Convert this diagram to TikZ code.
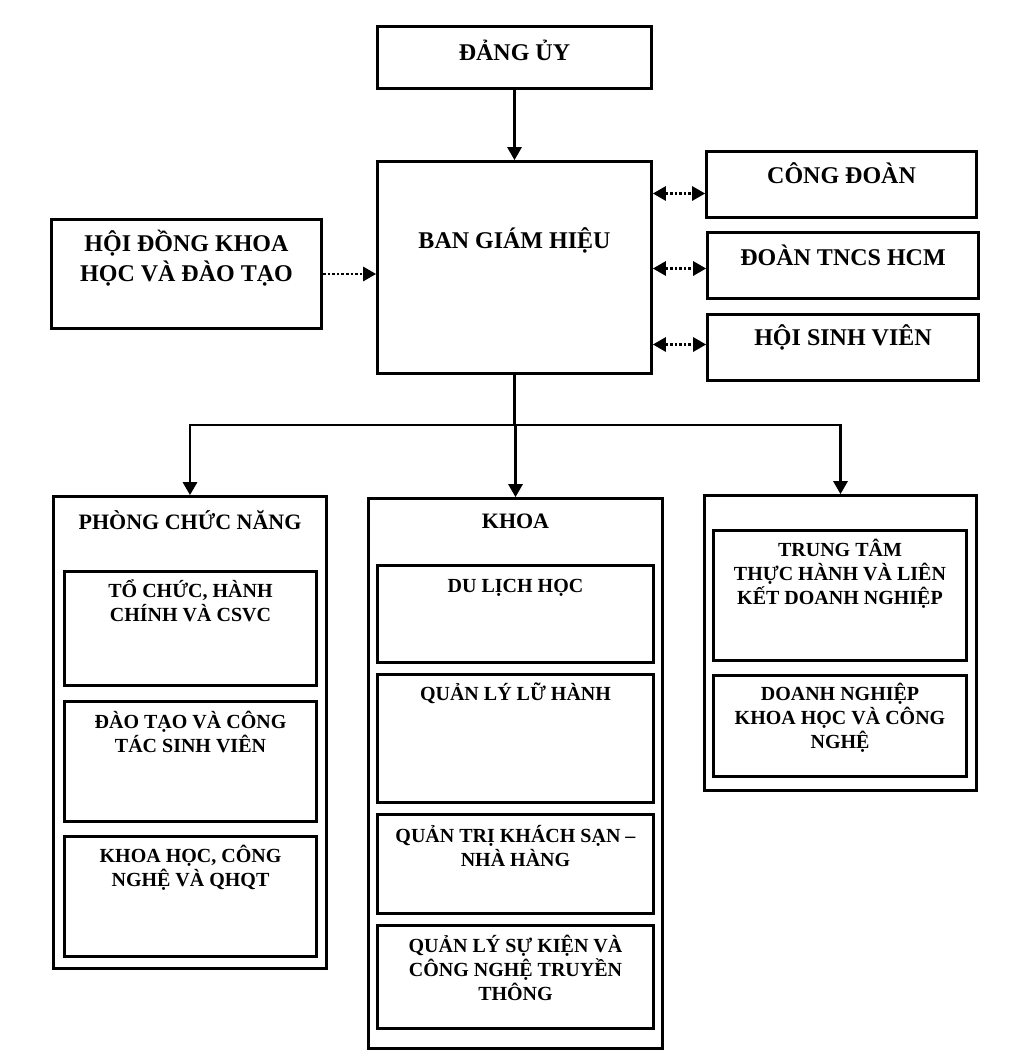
\documentclass[tikz,border=0pt]{standalone}
\usepackage{fontspec}
\setmainfont{Liberation Serif}
\usetikzlibrary{arrows}
\usetikzlibrary{positioning}
\tikzset{
  box/.style={draw, line width=3pt, anchor=north west, inner sep=0},
  big/.style={font=\fontsize{24}{30}\selectfont\bfseries, align=center, inner sep=0},
  head/.style={font=\fontsize{22}{26}\selectfont\bfseries, align=center, inner sep=0},
  small/.style={font=\fontsize{20}{24}\selectfont\bfseries, align=center, inner sep=0},
  arrow/.style={->, >=triangle 60, line width=2.6pt},
  link/.style={<->, >=triangle 60, line width=2.6pt, dotted}
}

\begin{document}
\begin{tikzpicture}[x=1pt, y=-1pt]
  \useasboundingbox[fill=white] (0,0) rectangle (1024,1060);

  % top part
  \node[box, minimum width=274pt, minimum height=62pt] (dang) at (376,25) {};
  \node[box, minimum width=274pt, minimum height=212pt] (bgh) at (376,160) {};
  \node[box, minimum width=270pt, minimum height=109pt] (hdkh) at (50,218) {};
  \node[box, minimum width=270pt, minimum height=66pt] (cd) at (705,150) {};
  \node[box, minimum width=271pt, minimum height=66pt] (dtn) at (706,231) {};
  \node[box, minimum width=271pt, minimum height=66pt] (hsv) at (706,313) {};

  \node[big] (dang-t) at ([yshift=-25pt]dang.north) {ĐẢNG ỦY};
  \node[big] (bgh-t) at ([yshift=-80pt]bgh.north) {BAN GIÁM HIỆU};
  \node[big] (hdkh-t) at ([yshift=-40pt]hdkh.north) {HỘI ĐỒNG KHOA\\HỌC VÀ ĐÀO TẠO};
  \node[big] (cd-t) at ([yshift=-23pt]cd.north) {CÔNG ĐOÀN};
  \node[big] (dtn-t) at ([yshift=-24pt]dtn.north) {ĐOÀN TNCS HCM};
  \node[big] (hsv-t) at ([yshift=-24pt]hsv.north) {HỘI SINH VIÊN};

  % phong chuc nang
  \node[box, minimum width=273pt, minimum height=472pt] (pcn) at (52,495) {};
  \node[box, minimum width=252pt, minimum height=114pt] (tc) at (63,570) {};
  \node[box, minimum width=252pt, minimum height=120pt] (dt) at (63,700) {};
  \node[box, minimum width=252pt, minimum height=120pt] (kh) at (63,835) {};

  \node[head] (pcn-t) at ([yshift=-25pt]pcn.north) {PHÒNG CHỨC NĂNG};
  \node[small] (tc-t) at ([yshift=-31pt]tc.north) {TỔ CHỨC, HÀNH\\CHÍNH VÀ CSVC};
  \node[small] (dt-t) at ([yshift=-32pt]dt.north) {ĐÀO TẠO VÀ CÔNG\\TÁC SINH VIÊN};
  \node[small] (kh-t) at ([yshift=-33pt]kh.north) {KHOA HỌC, CÔNG\\NGHỆ VÀ QHQT};

  % khoa
  \node[box, minimum width=294pt, minimum height=550pt] (khoa) at (367,497) {};
  \node[box, minimum width=276pt, minimum height=97pt] (dl) at (376,564) {};
  \node[box, minimum width=276pt, minimum height=128pt] (lh) at (376,673) {};
  \node[box, minimum width=276pt, minimum height=99pt] (qt) at (376,813) {};
  \node[box, minimum width=276pt, minimum height=103pt] (sk) at (376,924) {};

  \node[head] (khoa-t) at ([yshift=-24pt]khoa.north) {KHOA};
  \node[small] (dl-t) at ([yshift=-24pt]dl.north) {DU LỊCH HỌC};
  \node[small] (lh-t) at ([yshift=-20pt]lh.north) {QUẢN LÝ LỮ HÀNH};
  \node[small] (qt-t) at ([yshift=-33pt]qt.north) {QUẢN TRỊ KHÁCH SẠN –\\NHÀ HÀNG};
  \node[small] (sk-t) at ([yshift=-44pt]sk.north) {QUẢN LÝ SỰ KIỆN VÀ\\CÔNG NGHỆ TRUYỀN\\THÔNG};

  % trung tam
  \node[box, minimum width=272pt, minimum height=295pt] (tt) at (703,494) {};
  \node[box, minimum width=253pt, minimum height=130pt] (ttth) at (712,529) {};
  \node[box, minimum width=253pt, minimum height=101pt] (dn) at (712,674) {};

  \node[small] (ttth-t) at ([yshift=-45pt]ttth.north) {TRUNG TÂM\\THỰC HÀNH VÀ LIÊN\\KẾT DOANH NGHIỆP};
  \node[small] (dn-t) at ([yshift=-44pt]dn.north) {DOANH NGHIỆP\\KHOA HỌC VÀ CÔNG\\NGHỆ};

  % connectors
  \coordinate (cd-in) at ([yshift=-9pt]cd.west);
  \coordinate (dtn-in) at ([yshift=-3pt]dtn.west);
  \coordinate (hsv-in) at ([yshift=3pt]hsv.west);
  \draw[arrow] (dang) -- (bgh);
  \draw[link, ->] (hdkh.east) -- (bgh.west |- hdkh.east);
  \draw[link] (bgh.east |- cd-in) -- (cd-in);
  \draw[link] (bgh.east |- dtn-in) -- (dtn-in);
  \draw[link] (bgh.east |- hsv-in) -- (hsv-in);

  \coordinate (fork) at (bgh.south |- 0,425);
  \draw[line width=2.6pt] (bgh) -- (fork);
  \draw[arrow] (fork) -| (pcn);
  \draw[arrow] (fork) -- (fork -| khoa.north) -- (khoa);
  \draw[arrow] (fork) -| (tt);
\end{tikzpicture}
\end{document}
